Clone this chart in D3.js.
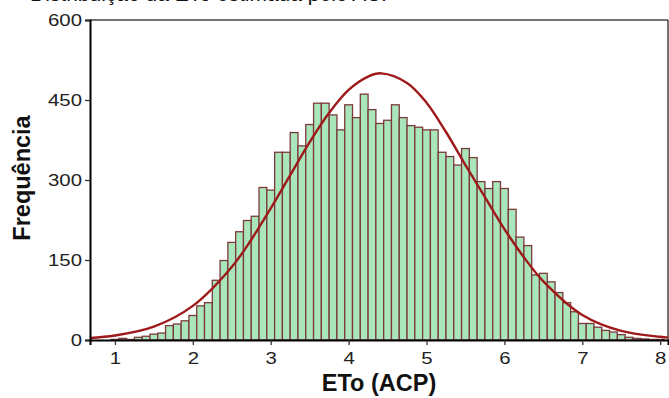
<!DOCTYPE html>
<html>
<head>
<meta charset="utf-8">
<script src="https://cdn.jsdelivr.net/npm/d3@7"></script>
<style>
  body { margin: 0; background: #fff; }
  text { font-family: "Liberation Sans", Arial, sans-serif; }
</style>
</head>
<body>
<div id="chart"></div>
<script>
const width = 669;
const height = 398;

// histogram counts, bins of 0.1 centred on 0.8 ... 8.0
const binWidth = 0.1;
const binCenters = d3.range(0.8, 8.05, binWidth);
const counts = [0, 0, 1, 3, 1, 5, 7, 11, 13, 27, 30, 36, 46, 64, 70, 112, 149, 183, 203, 224,
  232, 286, 281, 352, 352, 389, 364, 404, 444, 444, 422, 394, 441, 417, 461, 432, 406, 412, 441, 417,
  402, 399, 394, 394, 352, 344, 328, 359, 342, 297, 284, 297, 284, 245, 193, 177, 122, 125, 109, 89,
  70, 53, 31, 31, 24, 18, 15, 10, 5, 3, 2, 1, 1];

// fitted normal curve
const curveX = [0.68, 1.0, 1.5, 2.0, 2.5, 2.75, 3.0, 3.25, 3.5, 3.75, 4.0, 4.25, 4.42, 4.75, 5.0, 5.25, 5.5, 5.75, 6.0, 6.25, 6.5, 7.0, 7.5, 8.0, 8.1];
const curveY = [3.8, 8.4, 25, 64, 137, 188, 247, 309, 371, 426, 469, 494, 500, 482, 445, 390, 328, 268, 208, 155, 110, 47, 17, 6, 4.5];

const yTicks = [0, 150, 300, 450, 600];
const xTicks = [1, 2, 3, 4, 5, 6, 7, 8];

const svg = d3.select("#chart").append("svg").attr("width", width).attr("height", height);

const x = d3.scaleLinear().domain([0.68, 8.1]).range([90, 668]);
const y = d3.scaleLinear().domain([0, 600]).range([340, 20]);

// clipped title at the very top (only its lower edge is in the picture)
svg.append("text").attr("x", 30).attr("y", 1).style("font-size", "21px").attr("fill", "#111")
  .text("Distribuição da ETo estimada pelo ACP");

// frame top / right
svg.append("line").attr("x1", 90).attr("x2", 668).attr("y1", y(600)).attr("y2", y(600)).attr("stroke", "#444").attr("stroke-width", 1.5);
svg.append("line").attr("x1", 668).attr("x2", 668).attr("y1", y(600)).attr("y2", y(0)).attr("stroke", "#444").attr("stroke-width", 1.5);

// bars
svg.append("g").selectAll("rect").data(counts).join("rect")
  .attr("x", (d, i) => x(binCenters[i] - binWidth / 2))
  .attr("width", (d, i) => x(binCenters[i] + binWidth / 2) - x(binCenters[i] - binWidth / 2))
  .attr("y", d => y(d))
  .attr("height", d => y(0) - y(d))
  .attr("fill", "#aae6bb")
  .attr("stroke", "#7b3a3a")
  .attr("stroke-width", 1.3);

// normal curve
const line = d3.line().x(d => x(d[0])).y(d => y(d[1])).curve(d3.curveCatmullRom);
svg.append("path").datum(curveX.map((v, i) => [v, curveY[i]]))
  .attr("d", line).attr("fill", "none").attr("stroke", "#9e1a1a").attr("stroke-width", 2.4);

// axes
const stretch = 1.2; // tick labels in the picture are a bit wide
const yAxis = svg.append("g").attr("transform", "translate(90,0)")
  .call(d3.axisLeft(y).tickValues(yTicks).tickSize(5).tickPadding(3).tickFormat(d3.format("d")));
const xAxis = svg.append("g").attr("transform", "translate(0,340)")
  .call(d3.axisBottom(x).tickValues(xTicks).tickSize(5).tickPadding(7).tickFormat(d3.format("d")));

[yAxis, xAxis].forEach(a => {
  a.select(".domain").attr("stroke", "#000").attr("stroke-width", 2);
  a.selectAll(".tick line").attr("stroke", "#333").attr("stroke-width", 1.3);
  a.selectAll(".tick text").attr("fill", "#222").style("font-size", "17px")
    .style("font-family", "'Liberation Sans', Arial, sans-serif")
    .attr("transform", `scale(${stretch},1)`);
});
yAxis.selectAll(".tick text").attr("x", -8 / stretch);

// axis titles
svg.append("text").attr("x", 379).attr("y", 391).attr("text-anchor", "middle")
  .style("font-size", "23.5px").style("font-weight", "bold").attr("fill", "#111").text("ETo (ACP)");
svg.append("text").attr("transform", "translate(30,178) rotate(-90)").attr("text-anchor", "middle")
  .style("font-size", "23.5px").style("font-weight", "bold").attr("fill", "#111").text("Frequência");
</script>
</body>
</html>
